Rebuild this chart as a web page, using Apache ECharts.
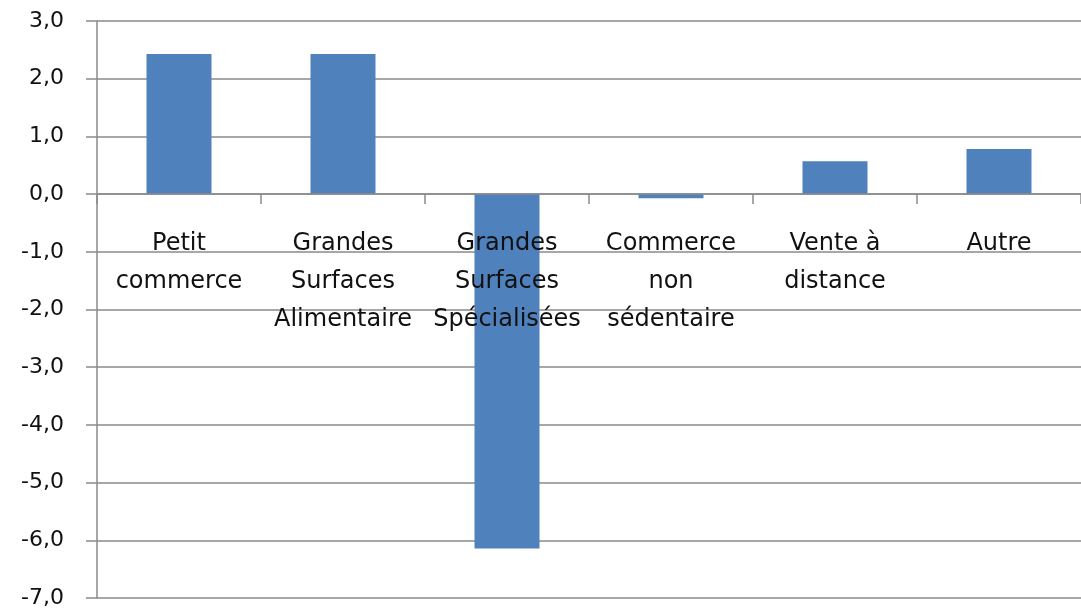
<!DOCTYPE html>
<html>
<head>
<meta charset="utf-8">
<script src="https://cdn.jsdelivr.net/npm/echarts@6/dist/echarts.min.js"></script>
<style>
html, body { margin: 0; padding: 0; background: #fff; }
#chart { width: 1081px; height: 609px; }
</style>
</head>
<body>
<div id="chart"></div>
<script>
// catégories (axe X) et valeurs
var categories = [
  'Petit\ncommerce',
  'Grandes\nSurfaces\nAlimentaire',
  'Grandes\nSurfaces\nSpécialisées',
  'Commerce\nnon\nsédentaire',
  'Vente à\ndistance',
  'Autre'
];
var values = [2.43, 2.43, -6.14, -0.07, 0.57, 0.78];

var yMin = -7, yMax = 3, yStep = 1;

var gridTop = 21, gridBottom = 11, H = 609;
// l'axe X est posé sur la ligne du zéro
var zeroOffset = -(0 - yMin) / (yMax - yMin) * (H - gridTop - gridBottom);

var chart = echarts.init(document.getElementById('chart'));

var option = {
  animation: false,
  grid: {
    left: 97,
    right: 0,
    top: gridTop,
    bottom: gridBottom,
    outerBoundsMode: 'none',
    containLabel: false
  },
  xAxis: {
    type: 'category',
    data: categories,
    position: 'bottom',
    offset: zeroOffset,
    z: 10,
    axisLine: { onZero: false, lineStyle: { color: '#8a8a8a', width: 1.5 } },
    axisTick: { show: true, length: 10, lineStyle: { color: '#8a8a8a', width: 1.5 } },
    axisLabel: {
      interval: 0,
      margin: 31,
      color: '#111',
      fontFamily: 'DejaVu Sans',
      fontSize: 24,
      lineHeight: 38
    },
    splitLine: { show: false }
  },
  yAxis: {
    type: 'value',
    min: yMin,
    max: yMax,
    interval: yStep,
    axisLine: { show: true, lineStyle: { color: '#8a8a8a', width: 1.5 } },
    axisTick: { show: true, length: 11, lineStyle: { color: '#8a8a8a', width: 1.5 } },
    axisLabel: {
      margin: 33,
      color: '#111',
      fontFamily: 'DejaVu Sans',
      fontSize: 22,
      formatter: function (v) { return v.toFixed(1).replace('.', ','); }
    },
    splitLine: { show: true, lineStyle: { color: '#8a8a8a', width: 1.5 } }
  },
  series: [{
    type: 'bar',
    data: values,
    barWidth: 65,
    itemStyle: { color: '#4f81bd' }
  }]
};
chart.setOption(option);
</script>
</body>
</html>
